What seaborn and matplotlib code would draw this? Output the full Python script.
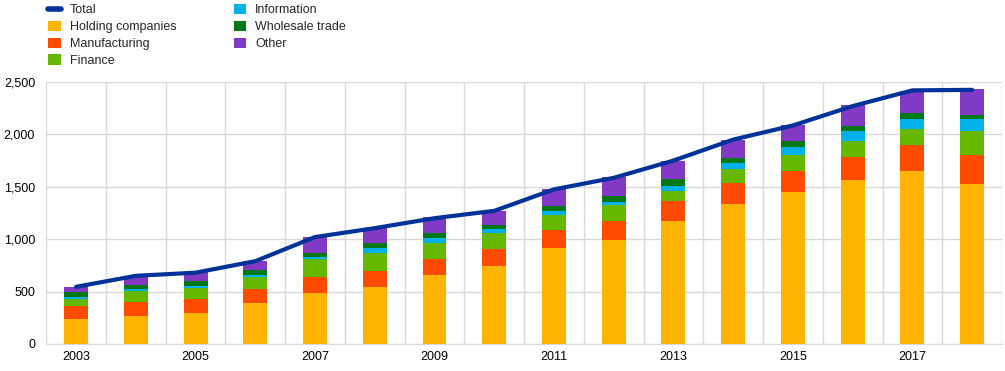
import numpy as np
import pandas as pd
import matplotlib
matplotlib.use("Agg")
import matplotlib.pyplot as plt
from matplotlib.lines import Line2D
from matplotlib.patches import Patch
from matplotlib.ticker import FuncFormatter, FixedLocator
import seaborn as sns

# === Data ===
years = list(range(2003, 2019))
holding = [239, 268, 296, 392, 487, 545, 659, 745, 917, 994, 1175, 1338, 1452, 1567, 1653, 1529]
manufacturing = [127, 133, 134, 133, 153, 153, 153, 163, 175, 181, 191, 194, 195, 220, 242, 271]
finance = [58, 102, 105, 115, 166, 172, 153, 153, 141, 147, 90, 134, 153, 153, 153, 229]
information = [25, 23, 22, 22, 25, 47, 48, 38, 38, 35, 54, 63, 82, 89, 96, 115]
wholesale = [48, 38, 45, 39, 39, 48, 48, 38, 48, 57, 60, 48, 51, 54, 57, 44]
other = [48, 89, 83, 92, 152, 145, 146, 134, 162, 175, 179, 172, 159, 194, 216, 242]
total = [545, 650, 680, 790, 1020, 1105, 1200, 1270, 1475, 1585, 1750, 1950, 2085, 2270, 2420, 2425]

series = {
    "Holding companies": holding,
    "Manufacturing": manufacturing,
    "Finance": finance,
    "Information": information,
    "Wholesale trade": wholesale,
    "Other": other,
}
colors = {
    "Holding companies": "#ffb400",
    "Manufacturing": "#ff4b00",
    "Finance": "#65b800",
    "Information": "#00b1ea",
    "Wholesale trade": "#007816",
    "Other": "#8139c6",
}
total_color = "#003299"

# === Style ===
sns.set_style("white")
plt.rcParams["font.family"] = ["Liberation Sans", "DejaVu Sans"]

fig = plt.figure(figsize=(10.05, 3.71), dpi=100)
ax = fig.add_axes([0.046, 0.073, 0.951, 0.706])

idx = np.arange(len(years))
df = pd.DataFrame(series)
df["pos"] = idx
cum = df[list(series)].cumsum(axis=1)

# stacked bars: draw cumulative heights from tallest down
for name in reversed(list(series)):
    sns.barplot(x=idx, y=cum[name].values, color=colors[name], width=0.4,
                saturation=1, linewidth=0, ax=ax, zorder=2)

sns.lineplot(x=idx, y=total, color=total_color, linewidth=3, ax=ax, zorder=3)

# === Axes ===
ax.set_xlim(-0.5, len(years) - 0.5)
ax.set_ylim(0, 2500)
ax.set_yticks(np.arange(0, 2501, 500))
ax.yaxis.set_major_formatter(FuncFormatter(lambda v, p: f"{int(v):,}"))
ax.set_xticks(idx[::2])
ax.set_xticklabels([str(y) for y in years[::2]])
ax.xaxis.set_minor_locator(FixedLocator(np.arange(-0.5, len(years), 1.0)))
ax.grid(axis="y", which="major", color="#d9d9d9", linewidth=1, zorder=0)
ax.grid(axis="x", which="minor", color="#d9d9d9", linewidth=1, zorder=0)
ax.grid(axis="x", which="major", visible=False)
ax.set_axisbelow(True)
for s in ["top", "right", "left"]:
    ax.spines[s].set_visible(False)
ax.spines["bottom"].set_color("#d9d9d9")
ax.tick_params(axis="both", which="both", length=0, labelsize=9, colors="#000000")
ax.tick_params(axis="y", pad=8)
ax.tick_params(axis="x", pad=5)
ax.set_xlabel("")
ax.set_ylabel("")

# === Legend ===
handles = [Line2D([0], [0], color=total_color, linewidth=4)]
labels = ["Total"]
for name in series:
    handles.append(Patch(facecolor=colors[name], edgecolor="none"))
    labels.append(name)
fig.legend(handles, labels, ncol=2, loc="upper left", bbox_to_anchor=(0.037, 1.02),
           frameon=False, fontsize=9, handlelength=1.0, handleheight=0.9,
           handletextpad=0.7, labelspacing=0.35, columnspacing=4.6)

plt.savefig("out.png", dpi=100)
plt.close()
